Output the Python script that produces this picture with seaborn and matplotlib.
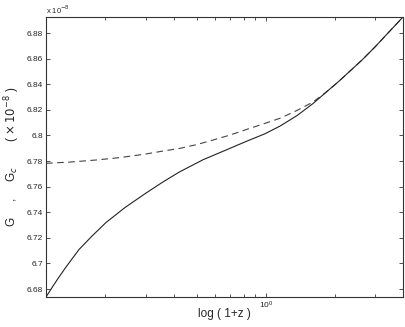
import numpy as np
import pandas as pd
import matplotlib
matplotlib.use("Agg")
import matplotlib.pyplot as plt
from matplotlib.ticker import FixedLocator, NullFormatter
import seaborn as sns

# Datos (x = 1+z en escala log, G en unidades de 1e-8)
x_g = [0.1104, 0.1173, 0.1245, 0.1349, 0.1537, 0.1751, 0.2015, 0.2438, 0.3009,
       0.3533, 0.4189, 0.5327, 0.6709, 0.8283, 0.9920, 1.153, 1.367, 1.605,
       1.828, 2.063, 2.326, 2.623, 2.988, 3.404, 3.956]
g_vals = [6.6738, 6.6812, 6.6882, 6.6972, 6.7109, 6.7214, 6.7320, 6.7437, 6.7550,
          6.7632, 6.7713, 6.7810, 6.7886, 6.7956, 6.8013, 6.8073, 6.8155, 6.8249,
          6.8337, 6.8417, 6.8503, 6.8589, 6.8691, 6.8800, 6.8925]

x_gc = [0.1104, 0.1405, 0.1823, 0.2319, 0.3009, 0.3568, 0.4230, 0.5016, 0.5889,
        0.6983, 0.8283, 0.9723, 1.153, 1.367, 1.605, 1.828, 2.063, 2.326, 2.623,
        2.988, 3.404, 3.956]
gc_vals = [6.7782, 6.7792, 6.7808, 6.7827, 6.7855, 6.7878, 6.7899, 6.7929, 6.7964,
           6.8003, 6.8048, 6.8089, 6.8134, 6.8195, 6.8261, 6.8337, 6.8417, 6.8503,
           6.8589, 6.8691, 6.8800, 6.8925]

y_ticks = [6.68, 6.70, 6.72, 6.74, 6.76, 6.78, 6.80, 6.82, 6.84, 6.86, 6.88]
y_tick_labels = ['6.68', '6.7', '6.72', '6.74', '6.76', '6.78', '6.8', '6.82', '6.84', '6.86', '6.88']
x_minor = [0.2, 0.3, 0.4, 0.5, 0.6, 0.7, 0.8, 0.9, 2, 3]

sns.set_theme(style="ticks")
plt.rcParams['font.family'] = ['Liberation Sans', 'DejaVu Sans']

df_g = pd.DataFrame({'x': x_g, 'y': g_vals})
df_gc = pd.DataFrame({'x': x_gc, 'y': gc_vals})

fig = plt.figure(figsize=(4.06, 3.27), dpi=100)
ax = fig.add_axes([46 / 406, 1 - 297 / 327, 357 / 406, 280 / 327])

sns.lineplot(data=df_gc, x='x', y='y', ax=ax, color='#444444', lw=0.8,
             linestyle=(0, (6, 4)), sort=False)
sns.lineplot(data=df_g, x='x', y='y', ax=ax, color='#222222', lw=0.8, sort=False)

ax.set_xscale('log')
ax.set_xlim(0.1104, 3.956)
ax.set_ylim(6.6738, 6.8925)

ax.xaxis.set_major_locator(FixedLocator([1.0]))
ax.xaxis.set_minor_locator(FixedLocator(x_minor))
ax.xaxis.set_minor_formatter(NullFormatter())
ax.set_yticks(y_ticks)
ax.set_yticklabels(y_tick_labels)

ax.tick_params(which='both', direction='in', top=True, right=True,
               labelsize=6, color='#333333', width=0.6, pad=2)
ax.tick_params(which='major', length=3)
ax.tick_params(which='minor', length=2)
for s in ax.spines.values():
    s.set_color('#333333')
    s.set_linewidth(0.8)

ax.set_xlabel('log ( 1+z )', fontsize=8.5)
ax.xaxis.set_label_coords(0.5, -(308 - 297) / 280)
ax.set_ylabel(r'G     ,     G$_c$        ( $\times\,10^{-8}$ )', fontsize=8.5)
ax.yaxis.set_label_coords(-(46 - 22) / 357, 0.5)
fig.text(46 / 406, 1 - 10 / 327, r'x 10$^{-8}$', fontsize=5.5, va='center', ha='left')

fig.savefig('out.png', dpi=100)
plt.close(fig)
